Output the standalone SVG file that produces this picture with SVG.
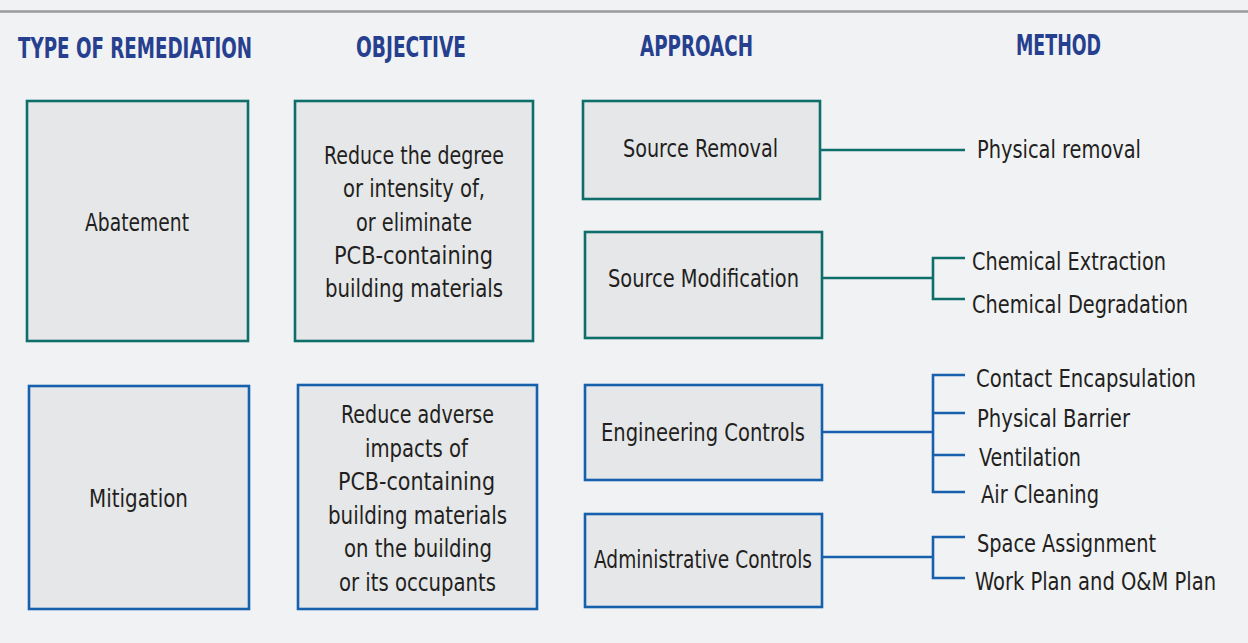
<svg xmlns="http://www.w3.org/2000/svg" width="1248" height="643" viewBox="0 0 1248 643">
<style>
.bg{fill:#f1f2f4}
.hd{font-family:"Liberation Sans Narrow","DejaVu Sans Condensed","Liberation Sans",sans-serif;font-weight:bold;font-size:29px;fill:#263f8e;text-anchor:start}
.t{font-family:"Liberation Sans Narrow","DejaVu Sans Condensed","Liberation Sans",sans-serif;font-size:25px;fill:#231f20}
.bt{fill:#e6e7e9;stroke:#0f6e6a;stroke-width:2.6}
.bb{fill:#e6e7e9;stroke:#1660ad;stroke-width:2.6}
.ct{fill:none;stroke:#0f6e6a;stroke-width:2.6}
.cb{fill:none;stroke:#1660ad;stroke-width:2.6}
</style>
<rect class="bg" x="0" y="0" width="1248" height="643"/>
<line x1="0" y1="11.5" x2="1248" y2="11.5" stroke="#9b9b9b" stroke-width="2.5"/>
<g id="headers">
<text class="hd" x="18" y="58" textLength="234" lengthAdjust="spacingAndGlyphs">TYPE OF REMEDIATION</text>
<text class="hd" x="356" y="57" textLength="110" lengthAdjust="spacingAndGlyphs">OBJECTIVE</text>
<text class="hd" x="640" y="56" textLength="113" lengthAdjust="spacingAndGlyphs">APPROACH</text>
<text class="hd" x="1016" y="55" textLength="85" lengthAdjust="spacingAndGlyphs">METHOD</text>
</g>
<g id="connectors">
<path class="ct" d="M820 150H965"/>
<path class="ct" d="M822 278H933M965 258H933V299H965"/>
<path class="cb" d="M822 432H933M965 375H933V492H965M933 413H965M933 455H965"/>
<path class="cb" d="M822 557H933M965 537H933V578H965"/>
</g>
<g id="abatement">
<rect class="bt" x="27" y="101" width="221" height="240"/>
<text class="t" x="85" y="231" textLength="104" lengthAdjust="spacingAndGlyphs">Abatement</text>
</g>
<g id="objective-abatement">
<rect class="bt" x="295" y="101" width="238" height="240"/>
<text class="t" x="324" y="164" textLength="180" lengthAdjust="spacingAndGlyphs">Reduce the degree</text>
<text class="t" x="343" y="197" textLength="142" lengthAdjust="spacingAndGlyphs">or intensity of,</text>
<text class="t" x="356" y="231" textLength="116" lengthAdjust="spacingAndGlyphs">or eliminate</text>
<text class="t" x="334" y="264" textLength="159" lengthAdjust="spacingAndGlyphs">PCB-containing</text>
<text class="t" x="325" y="297" textLength="178" lengthAdjust="spacingAndGlyphs">building materials</text>
</g>
<g id="source-removal">
<rect class="bt" x="583" y="101" width="237" height="98"/>
<text class="t" x="623" y="157" textLength="155" lengthAdjust="spacingAndGlyphs">Source Removal</text>
</g>
<g id="source-modification">
<rect class="bt" x="585" y="232" width="237" height="106"/>
<text class="t" x="608" y="287" textLength="191" lengthAdjust="spacingAndGlyphs">Source Modification</text>
</g>
<g id="mitigation">
<rect class="bb" x="29" y="386" width="220" height="223"/>
<text class="t" x="89" y="507" textLength="99" lengthAdjust="spacingAndGlyphs">Mitigation</text>
</g>
<g id="objective-mitigation">
<rect class="bb" x="298" y="385" width="239" height="224"/>
<text class="t" x="341" y="423" textLength="153" lengthAdjust="spacingAndGlyphs">Reduce adverse</text>
<text class="t" x="365" y="457" textLength="103" lengthAdjust="spacingAndGlyphs">impacts of</text>
<text class="t" x="338" y="490" textLength="157" lengthAdjust="spacingAndGlyphs">PCB-containing</text>
<text class="t" x="328" y="524" textLength="179" lengthAdjust="spacingAndGlyphs">building materials</text>
<text class="t" x="344" y="557" textLength="148" lengthAdjust="spacingAndGlyphs">on the building</text>
<text class="t" x="339" y="591" textLength="157" lengthAdjust="spacingAndGlyphs">or its occupants</text>
</g>
<g id="engineering-controls">
<rect class="bb" x="585" y="385" width="237" height="95"/>
<text class="t" x="601" y="441" textLength="204" lengthAdjust="spacingAndGlyphs">Engineering Controls</text>
</g>
<g id="administrative-controls">
<rect class="bb" x="585" y="514" width="237" height="93"/>
<text class="t" x="594" y="568" textLength="218" lengthAdjust="spacingAndGlyphs">Administrative Controls</text>
</g>
<g id="methods">
<text class="t" x="977" y="158" textLength="164" lengthAdjust="spacingAndGlyphs">Physical removal</text>
<text class="t" x="972" y="270" textLength="194" lengthAdjust="spacingAndGlyphs">Chemical Extraction</text>
<text class="t" x="972" y="313" textLength="216" lengthAdjust="spacingAndGlyphs">Chemical Degradation</text>
<text class="t" x="976" y="387" textLength="220" lengthAdjust="spacingAndGlyphs">Contact Encapsulation</text>
<text class="t" x="977" y="427" textLength="153" lengthAdjust="spacingAndGlyphs">Physical Barrier</text>
<text class="t" x="979" y="466" textLength="102" lengthAdjust="spacingAndGlyphs">Ventilation</text>
<text class="t" x="981" y="503" textLength="118" lengthAdjust="spacingAndGlyphs">Air Cleaning</text>
<text class="t" x="977" y="552" textLength="179" lengthAdjust="spacingAndGlyphs">Space Assignment</text>
<text class="t" x="975" y="590" textLength="241" lengthAdjust="spacingAndGlyphs">Work Plan and O&amp;M Plan</text>
</g>
</svg>
